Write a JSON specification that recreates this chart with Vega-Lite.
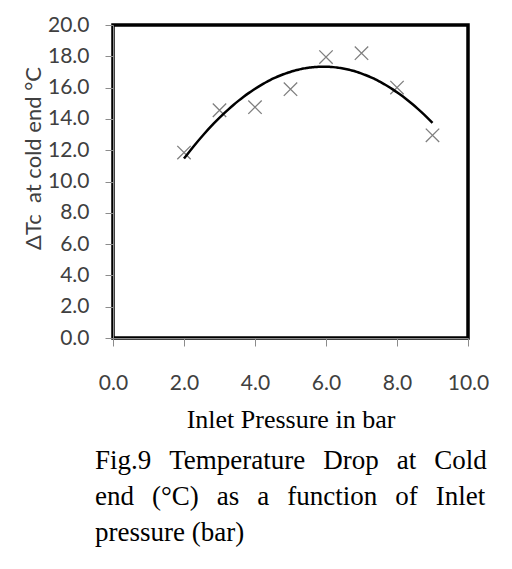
{
  "$schema": "https://vega.github.io/schema/vega-lite/v6.json",
  "width": 355,
  "height": 313,
  "autosize": {"type": "none"},
  "padding": {"left": 113, "top": 25, "right": 44, "bottom": 231},
  "background": "white",
  "data": {
    "values": [
      {"P": 2, "dT": 11.85},
      {"P": 3, "dT": 14.55},
      {"P": 4, "dT": 14.75},
      {"P": 5, "dT": 15.9},
      {"P": 6, "dT": 17.95},
      {"P": 7, "dT": 18.2},
      {"P": 8, "dT": 16.0},
      {"P": 9, "dT": 12.95}
    ]
  },
  "title": {
    "text": [
      "Fig.9\u2002\u2006Temperature\u2002\u2006Drop\u2002\u2006at\u2002\u2006Cold",
      "end\u2002\u2006(°C)\u2002\u2006as\u2002\u2006a\u2002\u2006function\u2002\u2006of\u2002\u2006Inlet",
      "pressure (bar)"
    ],
    "orient": "bottom",
    "anchor": "start",
    "frame": "group",
    "dx": -18,
    "offset": 16,
    "font": "Liberation Serif",
    "fontSize": 27,
    "fontWeight": "normal",
    "lineHeight": 36,
    "color": "black"
  },
  "encoding": {
    "x": {
      "field": "P", "type": "quantitative",
      "title": "Inlet Pressure in bar",
      "scale": {"domain": [0, 10], "nice": false, "zero": false},
      "axis": {
        "values": [0, 2, 4, 6, 8, 10], "format": ".1f",
        "titlePadding": 13, "labelPadding": 26
      }
    },
    "y": {
      "field": "dT", "type": "quantitative",
      "title": "ΔTc\u00a0 at cold end °C",
      "scale": {"domain": [0, 20], "nice": false},
      "axis": {
        "values": [0, 2, 4, 6, 8, 10, 12, 14, 16, 18, 20], "format": ".1f",
        "titleX": -80, "titleY": 133, "titleBaseline": "middle", "labelPadding": 16, "labelOverlap": false
      }
    }
  },
  "layer": [
    {
      "mark": {"type": "point", "shape": "M-1,-1L1,1M-1,1L1,-1", "filled": false, "stroke": "#7f7f7f", "strokeWidth": 1.3, "size": 180, "opacity": 1}
    },
    {
      "transform": [{"regression": "dT", "on": "P", "method": "poly", "order": 2, "extent": [2, 9]}],
      "mark": {"type": "line", "color": "black", "strokeWidth": 2.5, "interpolate": "monotone"}
    }
  ],
  "config": {
    "view": {"stroke": "black", "strokeWidth": 3.5},
    "axis": {
      "labelFont": "Lato", "labelFontSize": 21, "labelColor": "#404040",
      "tickSize": 8, "tickColor": "#8c8c8c", "tickWidth": 1,
      "domainColor": "#8c8c8c", "domainWidth": 1, "grid": false, "labelFlush": false, "labelOverlap": false,
      "titleFontWeight": "normal"
    },
    "axisX": {"titleFont": "Liberation Serif", "titleFontSize": 26, "titleColor": "black"},
    "axisY": {"titleFont": "Lato", "titleFontSize": 22, "titleColor": "#404040"}
  }
}
